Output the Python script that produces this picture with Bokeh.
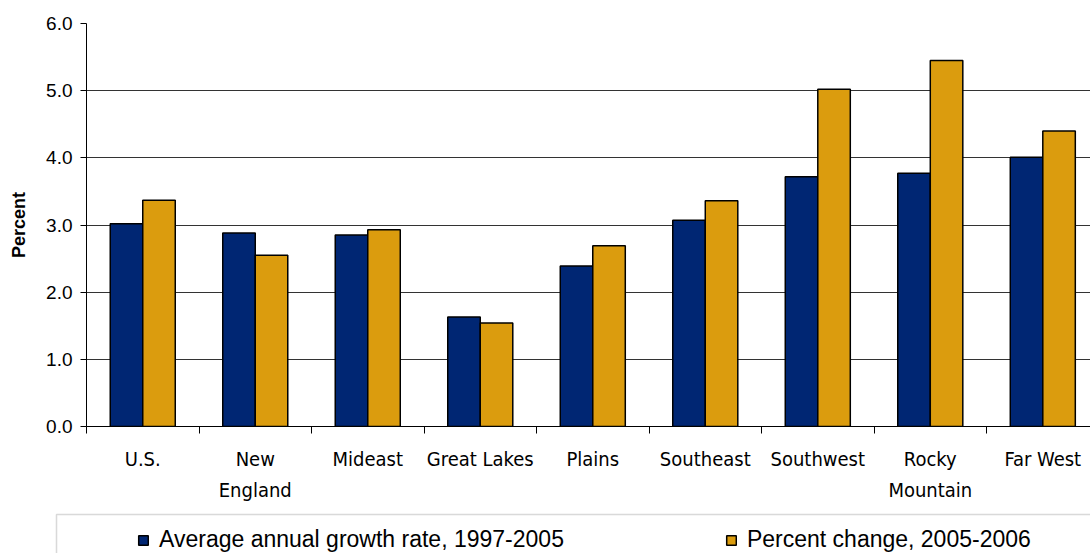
from bokeh.plotting import figure
from bokeh.models import (FixedTicker, Legend, LegendItem, BoxAnnotation, Range1d,
                          PrintfTickFormatter, ColumnDataSource)
from bokeh.transform import dodge
from bokeh.embed import file_html
from bokeh.resources import INLINE

# ---- data ----
regions = ["U.S.", "New England", "Mideast", "Great Lakes", "Plains",
           "Southeast", "Southwest", "Rocky Mountain", "Far West"]
region_tick_labels = ["U.S.", "New\nEngland", "Mideast", "Great Lakes", "Plains",
                      "Southeast", "Southwest", "Rocky\nMountain", "Far West"]
avg_growth_1997_2005 = [3.02, 2.88, 2.85, 1.63, 2.39, 3.07, 3.72, 3.77, 4.01]
pct_change_2005_2006 = [3.37, 2.55, 2.93, 1.54, 2.69, 3.36, 5.02, 5.45, 4.40]
series_names = ["Average annual growth rate, 1997-2005", "Percent change, 2005-2006"]
y_ticks = [0, 1, 2, 3, 4, 5, 6]

BLUE = "#002673"
GOLD = "#DB9C0E"
NARROW = "'DejaVu Sans Condensed', 'Liberation Sans'"

centers = [i + 0.5 for i in range(len(regions))]
boundaries = list(range(len(regions) + 1))

src = ColumnDataSource(dict(x=centers, a=avg_growth_1997_2005, b=pct_change_2005_2006))

p = figure(width=1090, height=507, x_range=Range1d(0, 8.924), y_range=Range1d(0, 6),
           output_backend="svg", toolbar_location=None,
           min_border_left=86, min_border_right=0, min_border_top=23, min_border_bottom=81)
p.outline_line_color = None
p.background_fill_color = "white"
p.border_fill_color = "white"

bw = 0.289
r1 = p.vbar(x=dodge("x", -bw / 2, range=p.x_range), top="a", width=bw, bottom=0, source=src,
            fill_color=BLUE, line_color="black", line_width=1.5)
r2 = p.vbar(x=dodge("x", bw / 2, range=p.x_range), top="b", width=bw, bottom=0, source=src,
            fill_color=GOLD, line_color="black", line_width=1.5)

# grid
p.xgrid.visible = False
p.ygrid.ticker = FixedTicker(ticks=y_ticks)
p.ygrid.grid_line_color = "#333333"
p.ygrid.grid_line_width = 1

# y axis
ya = p.yaxis[0]
ya.ticker = FixedTicker(ticks=y_ticks)
ya.formatter = PrintfTickFormatter(format="%.1f")
ya.major_tick_out = 6
ya.major_tick_in = 0
ya.minor_tick_out = 0
ya.minor_tick_in = 0
ya.axis_line_color = "black"
ya.major_tick_line_color = "black"
ya.major_label_text_font = "Liberation Sans"
ya.major_label_text_font_size = "19px"
ya.major_label_text_color = "black"
ya.major_label_standoff = 8
ya.axis_label = "Percent"
ya.axis_label_text_font = "Liberation Sans"
ya.axis_label_text_font_style = "bold"
ya.axis_label_text_font_size = "18px"
ya.axis_label_text_color = "black"
ya.axis_label_standoff = 14

# x axis
xa = p.xaxis[0]
xa.ticker = FixedTicker(ticks=centers, minor_ticks=boundaries)
xa.major_label_overrides = {c: lab for c, lab in zip(centers, region_tick_labels)}
xa.major_tick_out = 0
xa.major_tick_in = 0
xa.minor_tick_out = 7
xa.minor_tick_in = 0
xa.minor_tick_line_color = "black"
xa.axis_line_color = "black"
xa.major_label_text_font = NARROW
xa.major_label_text_font_size = "20px"
xa.major_label_text_color = "black"
xa.major_label_text_line_height = 1.3
xa.major_label_standoff = 13

# ---- legend strip (separate root so its frame spans the full width) ----
lg = figure(width=1090, height=46, x_range=Range1d(0, 1090), y_range=Range1d(0, 46),
            output_backend="svg", toolbar_location=None,
            min_border_left=0, min_border_right=0, min_border_top=0, min_border_bottom=0)
lg.axis.visible = False
lg.grid.visible = False
lg.outline_line_color = None
lg.background_fill_color = "white"
lg.border_fill_color = "white"

lsrc = ColumnDataSource(dict(x=centers, a=avg_growth_1997_2005, b=pct_change_2005_2006))
g1 = lg.vbar(x="x", top="a", width=bw, source=lsrc, visible=False,
             fill_color=BLUE, line_color="black", line_width=1.5)
g2 = lg.vbar(x="x", top="b", width=bw, source=lsrc, visible=False,
             fill_color=GOLD, line_color="black", line_width=1.5)

legend = Legend(items=[LegendItem(label=series_names[0], renderers=[g1]),
                       LegendItem(label=series_names[1], renderers=[g2])],
                orientation="horizontal", location=(137, 0),
                border_line_color=None, background_fill_alpha=0,
                inactive_fill_alpha=0,
                padding=0, margin=0, spacing=161, label_standoff=10,
                glyph_width=12, glyph_height=12,
                label_text_font="Liberation Sans", label_text_font_size="23px",
                label_text_color="black")
lg.add_layout(legend)

box = BoxAnnotation(left=56, right=1200, top=39, bottom=-20,
                    fill_color=None, line_color="#808080", line_width=1.5)
lg.add_layout(box)

open("out.html", "w").write(file_html([p, lg], INLINE))
